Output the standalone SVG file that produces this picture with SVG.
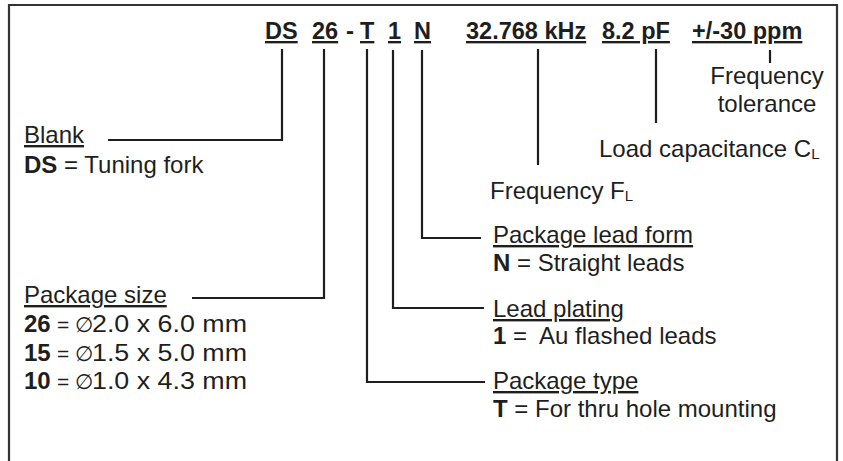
<svg xmlns="http://www.w3.org/2000/svg" width="843" height="461" viewBox="0 0 843 461">
<style>
text{font-family:"Liberation Sans",Arial,sans-serif;font-size:24px;fill:#1e1e1e;white-space:pre}
.h{font-size:23.5px;font-weight:bold;text-decoration:underline}
.u{text-decoration:underline}
.b{font-weight:bold}
.sub{font-size:15px}
.o{font-size:21px}
.c{fill:none;stroke:#1e1e1e;stroke-width:2.2}
.frame{fill:none;stroke:#333;stroke-width:2.2}
</style>
<rect width="843" height="461" fill="#fff"/>
<path class="frame" d="M9,470 V5 H837 V470"/>
<g id="code">
<text class="h" x="265" y="39">DS</text>
<text class="h" x="312" y="39">26</text>
<text class="b" x="346" y="39" font-size="23.5">-</text>
<text class="h" x="360" y="39">T</text>
<text class="h" x="388" y="39">1</text>
<text class="h" x="414" y="39">N</text>
<text class="h" x="466" y="39">32.768 kHz</text>
<text class="h" x="602" y="39">8.2 pF</text>
<text class="h" x="692" y="39">+/-30 ppm</text>
</g>
<g id="connectors">
<path class="c" d="M282,49 V140 H108"/>
<path class="c" d="M324,49 V298 H192"/>
<path class="c" d="M367,49 V382 H485"/>
<path class="c" d="M393,50 V308 H484"/>
<path class="c" d="M422,50 V238 H481"/>
<path class="c" d="M538,49 V165"/>
<path class="c" d="M656,49 V123"/>
<path class="c" d="M770,50 V63"/>
</g>
<g id="blank">
<text class="u" x="24" y="143">Blank</text>
<text x="24" y="173"><tspan class="b">DS</tspan> = Tuning fork</text>
</g>
<g id="size">
<text class="u" x="24" y="303">Package size</text>
<text x="24" y="332"><tspan class="b">26</tspan><tspan x="57" font-size="21">=</tspan><tspan class="o" x="75">∅</tspan><tspan x="92" textLength="155" lengthAdjust="spacingAndGlyphs">2.0 x 6.0 mm</tspan></text>
<text x="24" y="361"><tspan class="b">15</tspan><tspan x="57" font-size="21">=</tspan><tspan class="o" x="75">∅</tspan><tspan x="92" textLength="155" lengthAdjust="spacingAndGlyphs">1.5 x 5.0 mm</tspan></text>
<text x="24" y="389"><tspan class="b">10</tspan><tspan x="57" font-size="21">=</tspan><tspan class="o" x="75">∅</tspan><tspan x="92" textLength="155" lengthAdjust="spacingAndGlyphs">1.0 x 4.3 mm</tspan></text>
</g>
<g id="tolerance">
<text x="767" y="84" text-anchor="middle">Frequency</text>
<text x="767" y="112" text-anchor="middle">tolerance</text>
</g>
<g id="load">
<text x="599" y="157">Load capacitance C<tspan class="sub" dy="2">L</tspan></text>
</g>
<g id="frequency">
<text x="490" y="199">Frequency F<tspan class="sub" dy="2">L</tspan></text>
</g>
<g id="leadform">
<text class="u" x="493" y="243">Package lead form</text>
<text x="493" y="271"><tspan class="b">N</tspan> = Straight leads</text>
</g>
<g id="plating">
<text class="u" x="493" y="317">Lead plating</text>
<text x="493" y="344"><tspan class="b">1</tspan> =  Au flashed leads</text>
</g>
<g id="type">
<text class="u" x="493" y="389">Package type</text>
<text x="493" y="417"><tspan class="b">T</tspan> = For thru hole mounting</text>
</g>
</svg>
